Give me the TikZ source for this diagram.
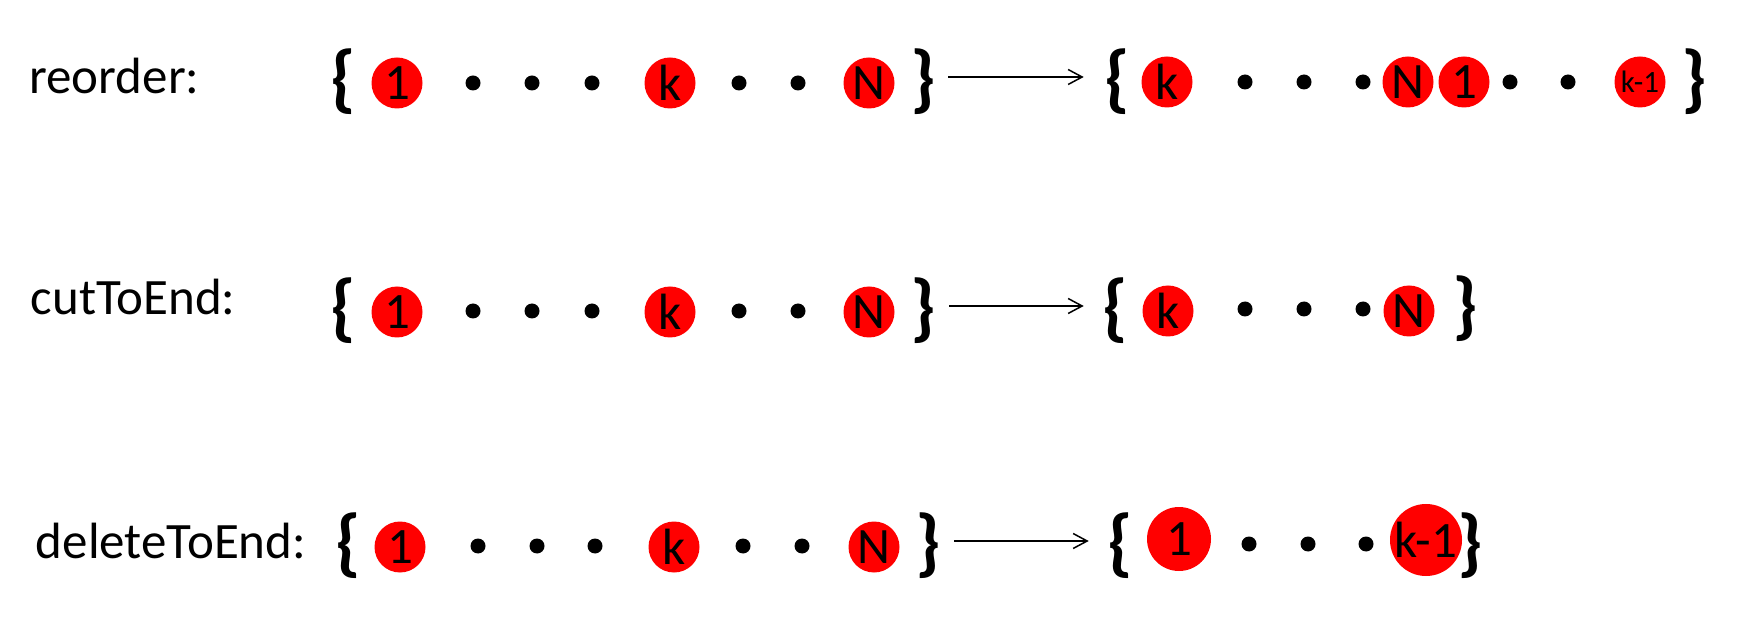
\documentclass[tikz,border=0pt]{standalone}
\usepackage{fontspec}
\setmainfont{Carlito}
\usetikzlibrary{arrows.meta}
\begin{document}
\begin{tikzpicture}[x=0.5pt, y=-0.5pt,
    lbl/.style={anchor=base west, inner sep=0pt, font=\fontsize{25.5}{30}\selectfont},
    brc/.style={inner sep=0pt, font=\fontsize{37.5}{44}\selectfont\bfseries},
    elem/.style={circle, fill=red, inner sep=0pt, minimum size=25.5pt, font=\fontsize{25.5}{30}\selectfont},
    bigelem/.style={elem, minimum size=32pt},
    blob/.style={circle, fill=black, inner sep=0pt, minimum size=7.5pt},
    arr/.style={-{Straight Barb[length=7pt, width=7.5pt]}, line width=0.75pt}]
    \useasboundingbox (0,0) rectangle (1756,641);
    % reorder
    \node[lbl] (lab1) at (29,94) {reorder:};
    \node[brc] (lb1) at (343,82) {\{};
    \node[elem] (a1) at (397,83) {1};
    \foreach \x [count=\i] in {473,532,592,739,798} \node[blob] (ad\i) at (\x,83) {};
    \node[elem] (ak) at (670,83) {k};
    \node[elem] (aN) at (869,83) {N};
    \node[brc] (rb1) at (923,82) {\}};
    \node[brc] (lb1r) at (1117,82) {\{};
    \node[elem] (bk) at (1167,82) {k};
    \foreach \x [count=\i] in {1245,1304,1363,1510,1568} \node[blob] (bd\i) at (\x,82) {};
    \node[elem] (bN) at (1408,82) {N};
    \node[elem] (b1) at (1464,82) {1};
    \node[elem, font=\fontsize{15.5}{18}\selectfont] (bkm) at (1640,82) {k-1};
    \node[brc] (rb1r) at (1694,82) {\}};
    \draw[arr] ([xshift=6pt,yshift=2.5pt]rb1.east) -- ([xshift=-10pt,yshift=2.5pt]lb1r.west);
    % cutToEnd
    \node[lbl] (lab2) at (30.5,315) {cutToEnd:};
    \node[brc] (lb2) at (343,311) {\{};
    \node[elem] (c1) at (397,312) {1};
    \foreach \x [count=\i] in {473,532,592,739,798} \node[blob] (cd\i) at (\x,311) {};
    \node[elem] (ck) at (670,312) {k};
    \node[elem] (cN) at (869,312) {N};
    \node[brc] (rb2) at (923,311) {\}};
    \node[brc] (lb2r) at (1115,311) {\{};
    \node[elem] (dk) at (1168,311) {k};
    \foreach \x [count=\i] in {1245,1304,1363} \node[blob] (dd\i) at (\x,309) {};
    \node[elem] (dN) at (1409,311) {N};
    \node[brc] (rb2r) at (1465,309) {\}};
    \draw[arr] ([xshift=6.5pt,yshift=2.5pt]rb2.east) -- ([xshift=-9pt,yshift=2.5pt]lb2r.west);
    % deleteToEnd
    \node[lbl] (lab3) at (35.5,558) {deleteToEnd:};
    \node[brc] (lb3) at (348,546) {\{};
    \node[elem] (e1) at (400,547) {1};
    \foreach \x [count=\i] in {478,537,595,743,802} \node[blob] (ed\i) at (\x,546) {};
    \node[elem] (ek) at (674,547) {k};
    \node[elem] (eN) at (874,547) {N};
    \node[brc] (rb3) at (928,546) {\}};
    \node[brc] (lb3r) at (1120,546) {\{};
    \node[bigelem] (f1) at (1179,539) {1};
    \foreach \x [count=\i] in {1249,1308,1366} \node[blob] (fd\i) at (\x,544) {};
    \node[bigelem] (fkm) at (1426,540) {k-1};
    \node[brc] (rb3r) at (1470,546) {\}};
    \draw[arr] ([xshift=6.5pt,yshift=2.5pt]rb3.east) -- ([xshift=-9pt,yshift=2.5pt]lb3r.west);
\end{tikzpicture}
\end{document}
